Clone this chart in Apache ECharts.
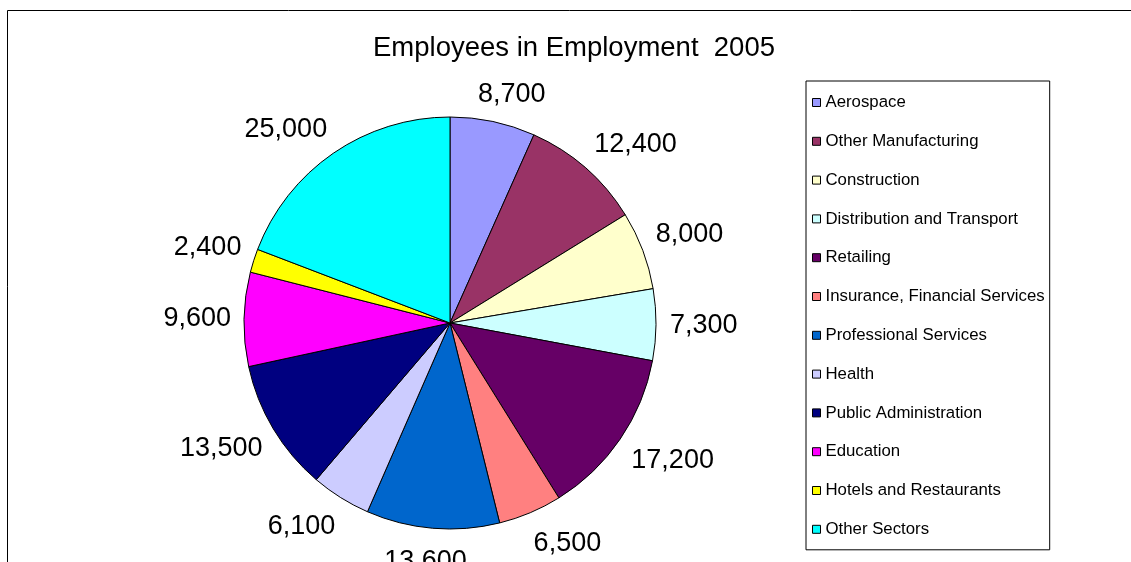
<!DOCTYPE html>
<html>
<head>
<meta charset="utf-8">
<script src="https://cdn.jsdelivr.net/npm/echarts@6/dist/echarts.min.js"></script>
<style>
html,body{margin:0;padding:0;background:#fff;}
#chart{width:1131px;height:562px;}
</style>
</head>
<body>
<div id="chart"></div>
<script>
const titleText = 'Employees in Employment  2005';
const categories = ['Aerospace','Other Manufacturing','Construction','Distribution and Transport','Retailing','Insurance, Financial Services','Professional Services','Health','Public Administration','Education','Hotels and Restaurants','Other Sectors'];
const values = [8700,12400,8000,7300,17200,6500,13600,6100,13500,9600,2400,25000];
const colors = ['#9999FF','#993366','#FFFFCC','#CCFFFF','#660066','#FF8080','#0066CC','#CCCCFF','#000080','#FF00FF','#FFFF00','#00FFFF'];

const FONT = '"Liberation Sans", Arial, sans-serif';
const CX = 450, CY = 323, R = 206;
const LABEL_SIZE = 27;

const total = values.reduce((a,b)=>a+b,0);
function midAngle(i){
  let cum = 0;
  for (let k=0;k<i;k++) cum += values[k];
  return (cum + values[i]/2) / total * 2 * Math.PI; // clockwise from top
}
function clamp(v){return Math.max(-1,Math.min(1,v));}

const chart = echarts.init(document.getElementById('chart'));
chart.setOption({
  animation:false,
  backgroundColor:'#fff',
  graphic:[
    {type:'rect', shape:{x:7.5,y:10.5,width:1200,height:700}, style:{fill:'none',stroke:'#000',lineWidth:1}, z:-1},
    {type:'text', x:574, y:48, style:{text:titleText, font:'27.5px '+FONT, fill:'#000', textAlign:'center', textVerticalAlign:'middle'}}
  ],
  legend:{
    orient:'vertical',
    left:806, top:81,
    padding:[13,5,12,6],
    borderColor:'#000', borderWidth:1,
    itemWidth:8, itemHeight:8, itemGap:21.8,
    icon:'rect',
    itemStyle:{borderColor:'#000',borderWidth:1},
    textStyle:{fontFamily:FONT,fontSize:16.8,color:'#000',lineHeight:16},
    data:categories
  },
  series:[{
    type:'pie',
    center:[CX,CY],
    radius:R,
    startAngle:90,
    clockwise:true,
    avoidLabelOverlap:false,
    itemStyle:{borderColor:'#000',borderWidth:1},
    label:{show:true,position:'outside',fontFamily:FONT,fontSize:LABEL_SIZE,color:'#000',
      formatter:(p)=>p.value.toLocaleString('en-US')},
    labelLine:{show:false},
    labelLayout:function(p){
      const a = midAngle(p.dataIndex);
      const s = Math.sin(a), c = Math.cos(a);
      const d = R + 16;
      const w = p.labelRect.width;
      const hHalf = c > 0 ? 11 : 10 + 7*c*c;
      const k = 2.5;
      const x = CX + s*d + (w/2)*clamp(k*s) + (s < 0 ? 3 : -2);
      const y = CY - c*d - hHalf*clamp(k*c);
      return {x:x, y:y, align:'center', verticalAlign:'middle'};
    },
    emphasis:{disabled:true},
    data:categories.map((n,i)=>({name:n,value:values[i],itemStyle:{color:colors[i]}}))
  }]
});
</script>
</body>
</html>
